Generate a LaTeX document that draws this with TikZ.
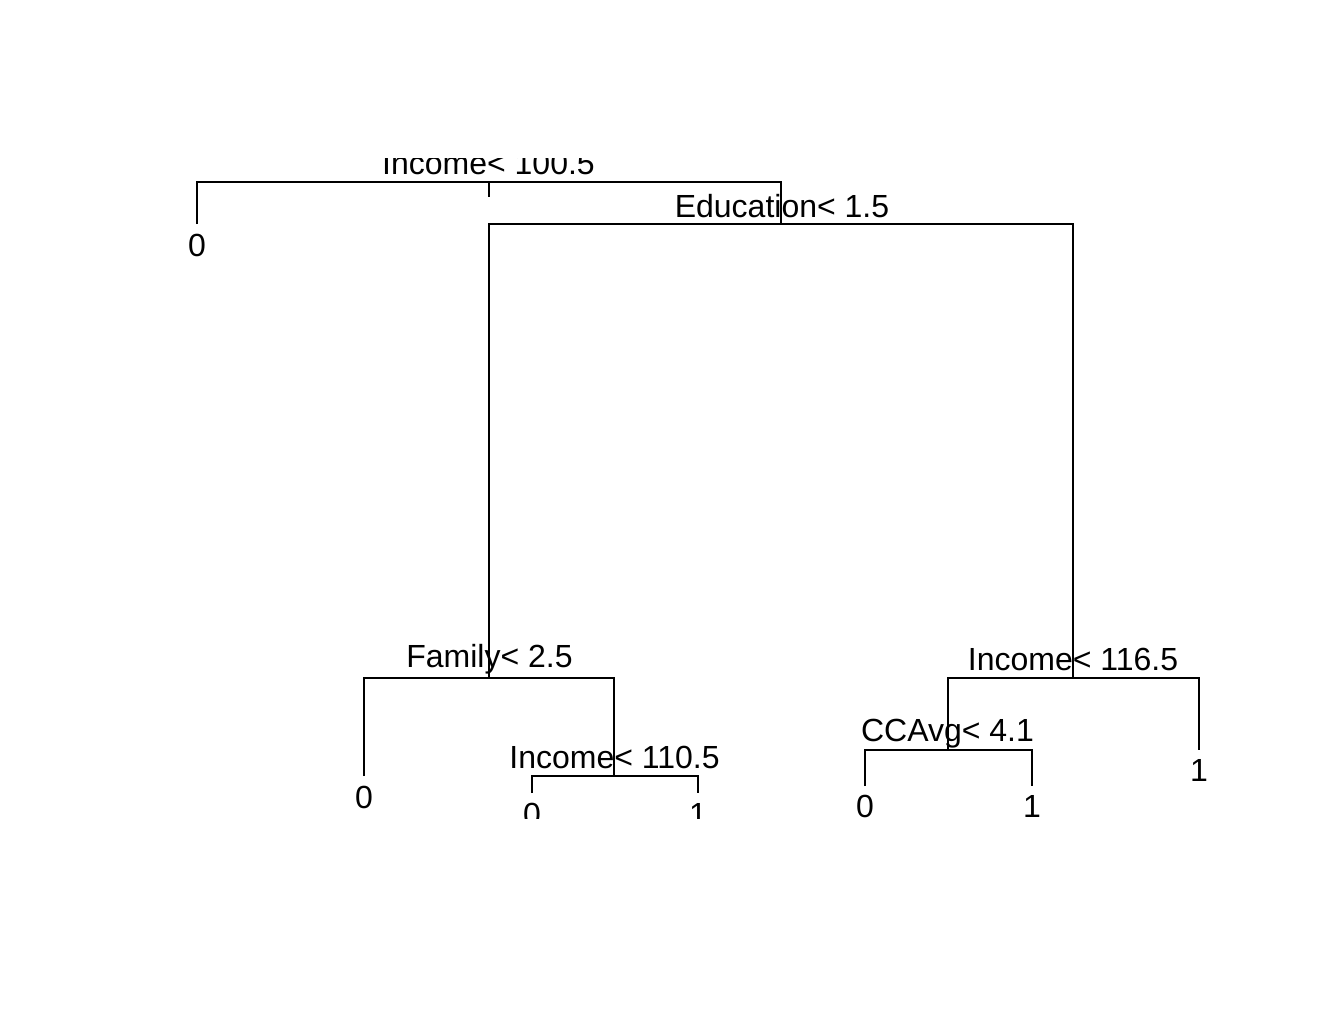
\documentclass[tikz,border=0pt]{standalone}
\usepackage{fontspec}
\setmainfont{Liberation Sans}
\usepackage{tikz}
\usetikzlibrary{positioning}

\begin{document}
\begin{tikzpicture}[x=0.5pt, y=-0.5pt, line width=0.8pt, font=\fontsize{16}{19}\selectfont,
    split/.style={anchor=base, inner sep=0pt},
    leaf/.style={anchor=base, inner sep=0pt}]
    \useasboundingbox (0,0) rectangle (1320,1014);
    \begin{scope}
    \clip (0,158) rectangle (1320,818);

    \coordinate (n1) at (489,182);
    \coordinate (l2) at (197,224);
    \coordinate (n3) at (781,224);
    \coordinate (n6) at (489,678);
    \coordinate (n7) at (1073,678);
    \coordinate (l12) at (364,776);
    \coordinate (n13) at (614,776);
    \coordinate (l26) at (532,793);
    \coordinate (l27) at (698,793);
    \coordinate (n14) at (948,750);
    \coordinate (l15) at (1199,750);
    \coordinate (l28) at (865,786);
    \coordinate (l29) at (1032,786);

    \draw (n1) -- ++(0,15);
    \draw (l2) |- (n1) -| (n3);
    \draw (n6) |- (n3) -| (n7);
    \draw (l12) |- (n6) -| (n13);
    \draw (l26) |- (n13) -| (l27);
    \draw (n14) |- (n7) -| (l15);
    \draw (l28) |- (n14) -| (l29);

    \node [split] (s1) at (488.5,174) {Income< 100.5};
    \node [split] (s3) at (782,217) {Education< 1.5};
    \node [split] (s6) at (489.5,667) {Family< 2.5};
    \node [split] (s13) at (614.5,768) {Income< 110.5};
    \node [split] (s7) at (1073,670) {Income< 116.5};
    \node [split] (s14) at (947.5,741) {CCAvg< 4.1};

    \node [leaf] (v2) at (197,256) {0};
    \node [leaf] (v12) at (364,808) {0};
    \node [leaf] (v26) at (532,825) {0};
    \node [leaf] (v27) at (698,825) {1};
    \node [leaf] (v15) at (1199,781) {1};
    \node [leaf] (v28) at (865,817) {0};
    \node [leaf] (v29) at (1032,817) {1};
    \end{scope}
\end{tikzpicture}
\end{document}
